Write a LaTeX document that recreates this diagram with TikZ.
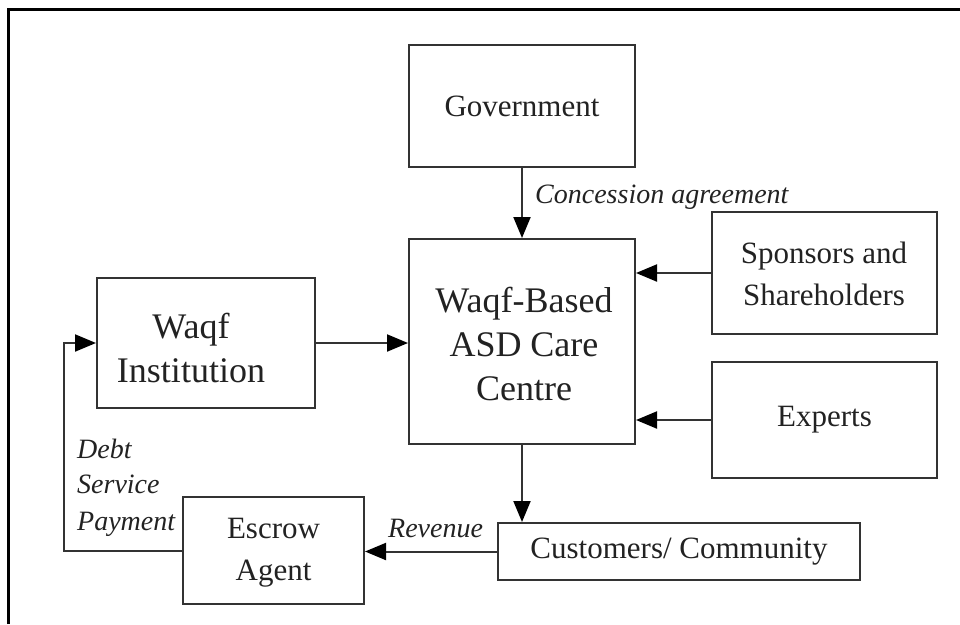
\documentclass[tikz,border=0pt]{standalone}
\usepackage{fontspec}
\setmainfont{Liberation Serif}
\usetikzlibrary{arrows.meta}
\definecolor{ln}{HTML}{333333}
\definecolor{tx}{HTML}{222222}
\begin{document}
\begin{tikzpicture}[x=1pt,y=-1pt,
  boxst/.style={draw=ln, line width=2pt, rectangle, inner sep=0pt, text=tx, align=center},
  bigf/.style={font=\fontsize{36}{44}\selectfont},
  medf/.style={font=\fontsize{31}{42}\selectfont},
  labf/.style={font=\fontsize{28}{36}\selectfont\itshape, text=tx, inner sep=0pt},
  txtst/.style={inner sep=0pt, text=tx, align=center},
  conn/.style={draw=ln, line width=2pt, -{Triangle[length=21pt,width=17pt,color=black]}}]
\useasboundingbox (0,0) rectangle (960,624);
% outer frame (top and left visible)
\draw[black, line width=3pt] (8,624) -- (8,9.5) -- (960,9.5);

% boxes
\node[boxst, medf, minimum width=226, minimum height=122] (gov) at (522,106) {Government};
\node[boxst, minimum width=226, minimum height=205] (centre) at (522,341.5) {};
\node[txtst, bigf] (centret) at (524,344) {Waqf-Based\\ASD Care\\Centre};
\node[boxst, minimum width=225, minimum height=122] (spon) at (824.5,273) {};
\node[txtst, medf] (spont) at (824,273.5) {Sponsors and\\Shareholders};
\node[boxst, medf, minimum width=225, minimum height=116] (exp) at (824.5,420) {Experts};
\node[boxst, minimum width=218, minimum height=130] (inst) at (206,343) {};
\node[txtst, bigf] (instt) at (191,348) {Waqf\\Institution};
\node[boxst, medf, minimum width=362, minimum height=57] (cust) at (679,551.5) {Customers/ Community};
\node[boxst, minimum width=181, minimum height=107] (esc) at (273.5,550.5) {};
\node[txtst, medf] (esct) at (273.5,553) {Escrow\\Agent};

% labels
\node[labf, anchor=base west] (conc) at (535,203) {Concession agreement};
\node[labf, anchor=base west] (rev) at (388,537) {Revenue};
\node[labf, anchor=base west] (debt1) at (77,458) {Debt};
\node[labf, anchor=base west] (debt2) at (77,493) {Service};
\node[labf, anchor=base west] (debt3) at (77,530) {Payment};

% connectors
\draw[conn] (gov.south) -- (centre.north);
\draw[conn] (spon.west) -- (spon.west -| centre.east);
\draw[conn] (exp.west) -- (exp.west -| centre.east);
\draw[conn] (inst.east) -- (inst.east -| centre.west);
\draw[conn] (centre.south) -- (centre.south |- cust.north);
\draw[conn] (cust.west) -- (cust.west -| esc.east);
\coordinate (turn) at (64,551);
\draw[conn] (esc.west) -- (esc.west -| turn) |- (inst.west);
\end{tikzpicture}
\end{document}
